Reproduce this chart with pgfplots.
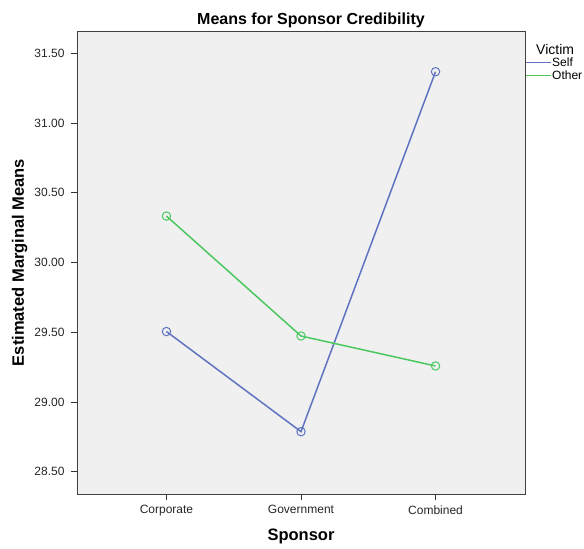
\documentclass[border=0pt]{standalone}
\usepackage{fontspec}
\setmainfont{Liberation Sans}
\usepackage{pgfplots}
\pgfplotsset{compat=1.18}
\definecolor{selfc}{RGB}{95,115,192}
\definecolor{otherc}{RGB}{75,200,95}
\definecolor{bgc}{RGB}{240,240,240}
\begin{document}
\begin{tikzpicture}
\useasboundingbox (-77pt,-55pt) rectangle (507pt,494pt);
\begin{axis}[
  scale only axis,
  width=448pt, height=463pt,
  xmin=-0.665, xmax=2.665,
  ymin=28.34, ymax=31.66,
  axis background/.style={fill=bgc},
  axis line style={draw=black!75, line width=0.8pt},
  xtick={0,1,2},
  xticklabels={Corporate,Government,Combined},
  ytick={28.5,29,29.5,30,30.5,31,31.5},
  yticklabel style={/pgf/number format/fixed, /pgf/number format/fixed zerofill, /pgf/number format/precision=2, xshift=-3pt},
  /pgf/number format/assume math mode=true,
  tick align=outside,
  major tick length=6pt,
  tick style={black!80, line width=0.8pt},
  xtick pos=bottom, ytick pos=left,
  ticklabel style={font=\fontsize{12}{14}\selectfont, text=black!85},
  xticklabel style={yshift=-2pt},
  title={\textbf{Means for Sponsor Credibility}},
  title style={font=\fontsize{16}{18}\selectfont, at={(axis description cs:0.5,1)}, anchor=center, yshift=5pt, xshift=10pt},
  xlabel={\textbf{Sponsor}},
  ylabel={\textbf{Estimated Marginal Means}},
  label style={font=\fontsize{16.5}{18}\selectfont},
  xlabel style={at={(axis description cs:0.5,0)}, anchor=center, yshift=-42pt},
  ylabel style={at={(axis description cs:-0.128,0.5)}, anchor=center},
  legend style={draw=none, fill=none, at={(1.0,0.974)}, anchor=north west,
    font=\fontsize{12}{14}\selectfont, row sep=0pt, inner xsep=0pt, inner ysep=0pt,
    nodes={inner sep=0.5pt, minimum height=13pt}},
  legend cell align=left,
  legend image code/.code={\draw[#1] (0pt,0pt) -- (25pt,0pt);},
]
\addlegendimage{empty legend}
\addlegendentry{\hspace{-16pt}\fontsize{14}{16}\selectfont Victim}
\addlegendimage{color=selfc, line width=1.5pt}
\addlegendentry{Self}
\addlegendimage{color=otherc, line width=1.5pt}
\addlegendentry{Other}
\addplot[forget plot, color=selfc, line width=1.5pt, mark=o, mark size=4.2pt, mark options={line width=1pt}]
  coordinates {(0,29.505) (1,28.787) (2,31.368)};
\addplot[forget plot, color=otherc, line width=1.5pt, mark=o, mark size=4.2pt, mark options={line width=1pt}]
  coordinates {(0,30.333) (1,29.473) (2,29.258)};
\end{axis}
\end{tikzpicture}
\end{document}
